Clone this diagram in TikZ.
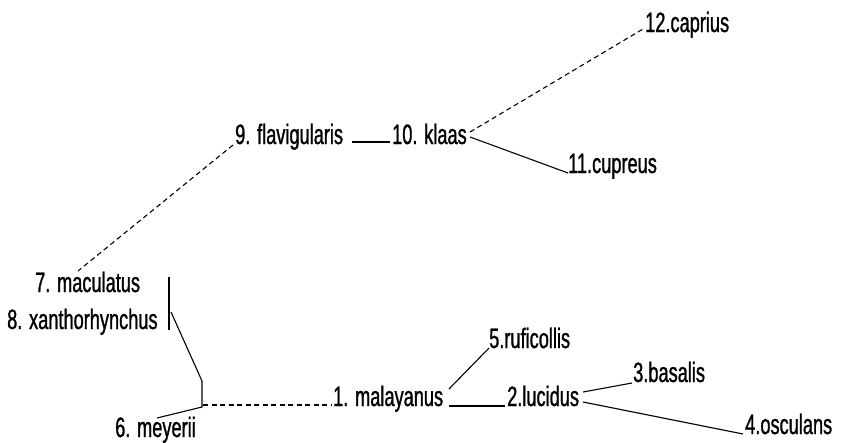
\documentclass[tikz,border=0pt]{standalone}
\usepackage{fontspec}
\setmainfont{Liberation Sans}[FakeStretch=0.65,FakeBold=1]
\begin{document}
\begin{tikzpicture}[x=1pt,y=-1pt,
  lbl/.style={anchor=base west,inner sep=0pt,font=\fontsize{28}{32}\selectfont},
  solidln/.style={line width=1.1pt},
  dashln/.style={line width=1.1pt,dash pattern=on 5pt off 3.5pt}]
\useasboundingbox[fill=white] (0,0) rectangle (842,442);
% labels
\node[lbl] (n12) at (645,32) {12.caprius};
\node[lbl] (n9) at (235,144) {9. flavigularis};
\node[lbl] (n10) at (392,144) {10. klaas};
\node[lbl] (n11) at (568,173) {11.cupreus};
\node[lbl] (n7) at (35,292) {7. maculatus};
\node[lbl] (n8) at (7,329) {8. xanthorhynchus};
\node[lbl] (n6) at (115,437) {6. meyerii};
\node[lbl] (n1) at (333,406) {1. malayanus};
\node[lbl] (n5) at (489,348) {5.ruficollis};
\node[lbl] (n2) at (507,406) {2.lucidus};
\node[lbl] (n3) at (633,382) {3.basalis};
\node[lbl] (n4) at (745,434) {4.osculans};
% connector points
\coordinate (k12) at (470,132);
\coordinate (e12) at (643,29);
\coordinate (k11) at (470,137);
\coordinate (e11) at (568,173);
\coordinate (a9) at (352,142);
\coordinate (b10) at (390,142);
\coordinate (s9) at (233,145);
\coordinate (e7) at (78,271);
\coordinate (bt) at (169,277);
\coordinate (bb) at (169,330);
\coordinate (bm) at (171,312);
\coordinate (j1) at (202,381);
\coordinate (j2) at (202,407);
\coordinate (e6) at (157,418);
\coordinate (d1) at (203,405);
\coordinate (d2) at (332,405);
\coordinate (m5) at (449,389);
\coordinate (e5) at (489,348);
\coordinate (m2) at (449,406);
\coordinate (e2) at (505,406);
\coordinate (l3) at (583,392);
\coordinate (e3) at (632,383);
\coordinate (l4) at (583,402);
\coordinate (e4) at (743,434);
% connectors
\draw[dashln] (k12) -- (e12);
\draw[solidln] (k11) -- (e11);
\draw[solidln] (a9) -- (b10);
\draw[dashln] (s9) -- (e7);
\draw[solidln] (bt) -- (bb);
\draw[solidln] (bm) -- (j1) -- (j2) -- (e6);
\draw[dashln] (d1) -- (d2);
\draw[solidln] (m5) -- (e5);
\draw[solidln] (m2) -- (e2);
\draw[solidln] (l3) -- (e3);
\draw[solidln] (l4) -- (e4);
\end{tikzpicture}
\end{document}
